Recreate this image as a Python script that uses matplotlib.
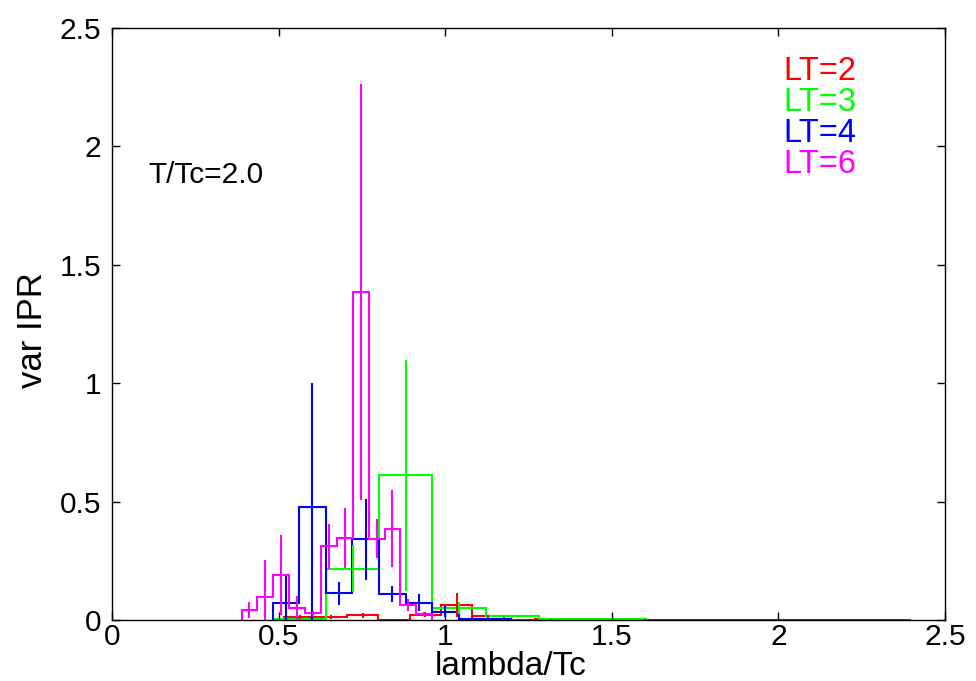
import matplotlib
matplotlib.use("Agg")
import matplotlib.pyplot as plt
import numpy as np

plt.rcParams['font.family'] = ['Liberation Sans', 'DejaVu Sans']

# histogram bin edges, values and errors, one set per LT
red_edges = [0.517, 0.611, 0.705, 0.799, 0.893, 0.987, 1.081, 1.175, 1.269, 1.363, 1.457,
             1.551, 1.645, 1.739, 1.833, 1.927, 2.021, 2.115, 2.209, 2.303, 2.397]
red_vals = [0.012, 0.013, 0.019, 0.002, 0.023, 0.062, 0.016, 0.001, 0.004, 0.001,
            0.002, 0.002, 0.002, 0.002, 0.002, 0.002, 0.002, 0.002, 0.002, 0.002]
red_err = [0.010, 0.010, 0.010, 0.002, 0.010, 0.050, 0.006, 0.001, 0.002, 0.001,
           0.001, 0.001, 0.001, 0.001, 0.001, 0.001, 0.001, 0.001, 0.001, 0.001]

green_edges = [0.483, 0.643, 0.801, 0.961, 1.121, 1.281, 1.441, 1.601]
green_vals = [0.003, 0.217, 0.611, 0.051, 0.016, 0.003, 0.003]
green_err = [0.003, 0.100, 0.489, 0.025, 0.006, 0.002, 0.002]

blue_edges = [0.482, 0.561, 0.641, 0.721, 0.801, 0.881, 0.961, 1.040, 1.120, 1.198]
blue_vals = [0.070, 0.476, 0.112, 0.340, 0.111, 0.073, 0.035, 0.006, 0.003]
blue_err = [0.115, 0.526, 0.048, 0.172, 0.034, 0.037, 0.022, 0.005, 0.002]

magenta_edges = [0.389, 0.436, 0.484, 0.532, 0.580, 0.627, 0.675, 0.723, 0.771,
                 0.818, 0.865, 0.913, 0.960]
magenta_vals = [0.041, 0.098, 0.189, 0.051, 0.030, 0.311, 0.347, 1.385, 0.344,
                0.385, 0.065, 0.025]
magenta_err = [0.033, 0.157, 0.170, 0.050, 0.010, 0.095, 0.127, 0.880, 0.083,
               0.163, 0.025, 0.010]

labels = ['LT=2', 'LT=3', 'LT=4', 'LT=6']
colors = ['#ff0000', '#00ff00', '#0000ff', '#ff00ff']

x_ticks = [0, 0.5, 1, 1.5, 2, 2.5]
x_ticklabels = ['0', '0.5', '1', '1.5', '2', '2.5']
y_ticks = [0, 0.5, 1, 1.5, 2, 2.5]
y_ticklabels = ['0', '0.5', '1', '1.5', '2', '2.5']

series = [
    (red_edges, red_vals, red_err),
    (green_edges, green_vals, green_err),
    (blue_edges, blue_vals, blue_err),
    (magenta_edges, magenta_vals, magenta_err),
]

fig = plt.figure(figsize=(9.76, 6.81), dpi=100)
ax = fig.add_axes([0.1148, 0.0896, 0.8535, 0.8693])

for k, (edges, vals, err) in enumerate(series):
    edges = np.array(edges)
    centers = (edges[:-1] + edges[1:]) / 2
    ax.stairs(vals, edges, baseline=0, color=colors[k], lw=1.5)
    ax.errorbar(centers, vals, yerr=err, fmt='none', ecolor=colors[k],
                elinewidth=1.5, capsize=0)

ax.set_xlim(0, 2.5)
ax.set_ylim(0, 2.5)
ax.set_xticks(x_ticks)
ax.set_xticklabels(x_ticklabels)
ax.set_yticks(y_ticks)
ax.set_yticklabels(y_ticklabels)
ax.tick_params(direction='in', length=6, width=1, labelsize=21.5,
               top=True, right=True)
ax.tick_params(axis='x', pad=2)
ax.tick_params(axis='y', pad=8)
for s in ax.spines.values():
    s.set_linewidth(1.0)

ax.set_xlabel('lambda/Tc', fontsize=24)
ax.xaxis.set_label_coords(0.478, -0.053)
ax.set_ylabel('var IPR', fontsize=25)
ax.yaxis.set_label_coords(-0.0756, 0.49)

ax.text(0.0432, 0.752, 'T/Tc=2.0', transform=ax.transAxes, fontsize=21.5,
        va='center', ha='left')
for k in range(len(labels)):
    ax.text(0.8055, 0.9257 - 0.0523 * k, labels[k], transform=ax.transAxes,
            fontsize=23.5, color=colors[k], va='center', ha='left')

fig.savefig('out.png', dpi=100)
